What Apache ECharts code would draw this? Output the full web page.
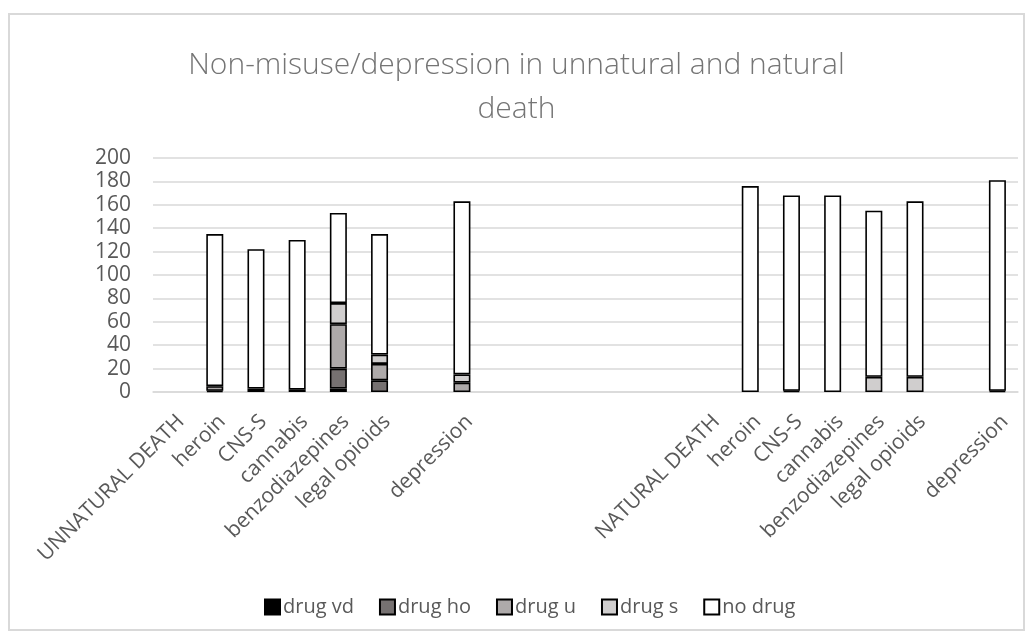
<!DOCTYPE html>
<html>
<head>
<meta charset="utf-8">
<script src="https://cdn.jsdelivr.net/npm/echarts@6/dist/echarts.min.js"></script>
<style>
  html, body { margin: 0; padding: 0; background: #fff; }
  #chart { width: 1033px; height: 639px; }
</style>
</head>
<body>
<div id="chart"></div>
<script>
// Category slots along the x axis; empty strings are spacer slots.
const categories = [
  'UNNATURAL DEATH', 'heroin', 'CNS-S', 'cannabis', 'benzodiazepines', 'legal opioids', '', 'depression',
  '', '', '', '', '',
  'NATURAL DEATH', 'heroin', 'CNS-S', 'cannabis', 'benzodiazepines', 'legal opioids', '', 'depression'
];

const seriesNames = ['drug vd', 'drug ho', 'drug u', 'drug s', 'no drug'];

// Stacked counts per slot (null = no bar drawn)
const drugVd = [null, 1, 3, 2, 3, 0, null, 0,   null, null, null, null, null,   null, 0, 1, 0, 0, 0, null, 1];
const drugHo = [null, 0, 0, 0, 17, 10, null, 0,  null, null, null, null, null,   null, 0, 0, 0, 0, 0, null, 0];
const drugU  = [null, 4, 0, 0, 38, 14, null, 8,  null, null, null, null, null,   null, 0, 0, 0, 0, 0, null, 0];
const drugS  = [null, 0, 0, 0, 18, 8, null, 7,   null, null, null, null, null,   null, 0, 0, 0, 13, 13, null, 0];
const noDrug = [null, 130, 119, 128, 77, 103, null, 148, null, null, null, null, null, null, 176, 167, 168, 142, 150, null, 180];

const yTicks = { min: 0, max: 200, interval: 20 };

const fills = ['#000000', '#767171', '#aeaaaa', '#d0cece', '#ffffff'];
const valueSets = [drugVd, drugHo, drugU, drugS, noDrug];

const font = '"Open Sans", "Liberation Sans", sans-serif';
const textGrey = '#595959';

const series = seriesNames.map((name, i) => ({
  name: name,
  type: 'bar',
  stack: 'total',
  barWidth: 17,
  data: valueSets[i].map(v => (v === 0 ? null : v)),
  itemStyle: { color: fills[i], borderColor: '#000000', borderWidth: 1.6 },
  emphasis: { disabled: true }
}));

const chart = echarts.init(document.getElementById('chart'), null, { renderer: 'canvas' });
chart.setOption({
  animation: false,
  backgroundColor: '#ffffff',
  textStyle: { fontFamily: font },
  title: {
    text: 'Non-misuse/depression in unnatural and natural\ndeath',
    left: 'center',
    top: 38,
    textStyle: {
      fontFamily: font,
      fontSize: 30,
      fontWeight: 300,
      color: '#757575',
      lineHeight: 44
    }
  },
  legend: {
    top: 597,
    left: 264,
    padding: 0,
    icon: 'rect',
    itemWidth: 15,
    itemHeight: 15,
    itemGap: 25,
    textStyle: { fontFamily: font, fontSize: 20, color: textGrey, padding: [0, 0, 0, -2] },
    data: seriesNames
  },
  grid: { left: 153, right: 15, top: 158, bottom: 247, containLabel: false },
  xAxis: {
    type: 'category',
    data: categories,
    axisLine: { lineStyle: { color: '#d9d9d9', width: 1.5 } },
    axisTick: { show: false },
    axisLabel: {
      interval: 0,
      rotate: 45,
      margin: 19,
      align: 'right',
      verticalAlign: 'top',
      fontFamily: font,
      fontSize: 21,
      color: textGrey
    }
  },
  yAxis: {
    type: 'value',
    min: yTicks.min,
    max: yTicks.max,
    interval: yTicks.interval,
    axisLine: { show: false },
    axisTick: { show: false },
    splitLine: { lineStyle: { color: '#d9d9d9', width: 1.5 } },
    axisLabel: { fontFamily: font, fontSize: 21, color: textGrey, margin: 22 }
  },
  series: series,
  graphic: [{
    type: 'rect',
    silent: true,
    z: -1,
    shape: { x: 9, y: 14, width: 1015, height: 616 },
    style: { fill: 'none', stroke: '#d9d9d9', lineWidth: 2 }
  }]
});
</script>
</body>
</html>
